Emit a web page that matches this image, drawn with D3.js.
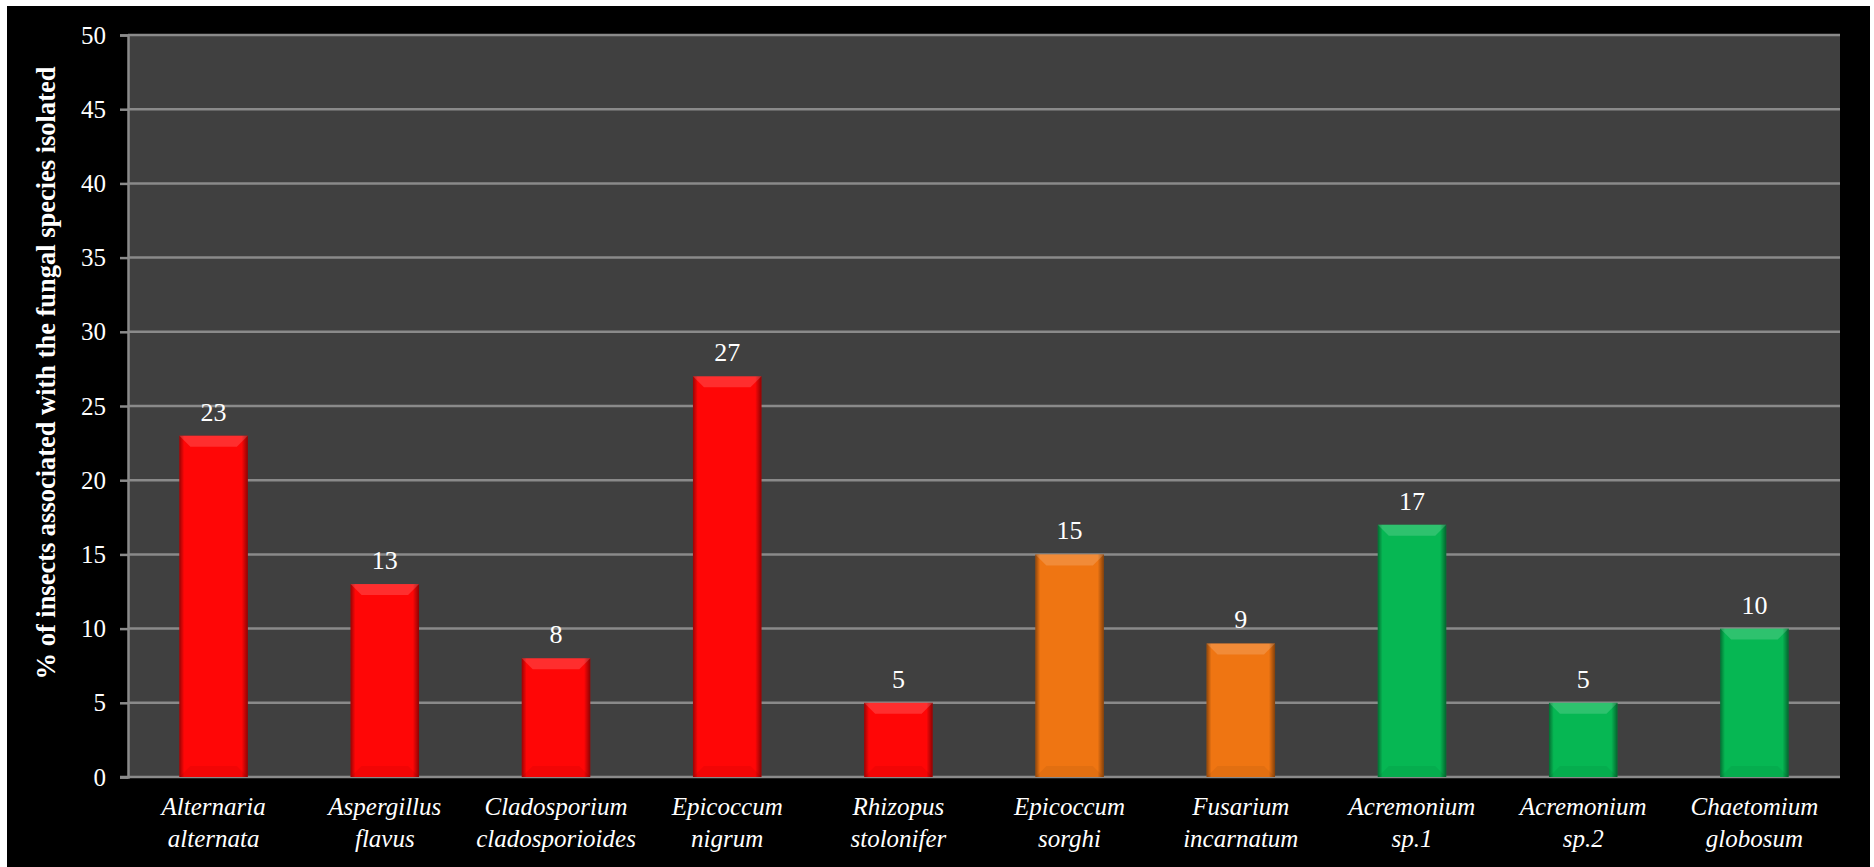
<!DOCTYPE html>
<html>
<head>
<meta charset="utf-8">
<script src="https://cdn.jsdelivr.net/npm/d3@7"></script>
<style>
  html, body { margin: 0; padding: 0; background: #ffffff; }
  svg { display: block; }
</style>
</head>
<body>
<svg id="chart" width="1874" height="867"></svg>
<script>
// ---- data ----
const categories = [
  "Alternaria alternata", "Aspergillus flavus", "Cladosporium cladosporioides",
  "Epicoccum nigrum", "Rhizopus stolonifer", "Epicoccum sorghi",
  "Fusarium incarnatum", "Acremonium sp.1", "Acremonium sp.2", "Chaetomium globosum"
];
const labelLine1 = ["Alternaria", "Aspergillus", "Cladosporium", "Epicoccum", "Rhizopus",
                    "Epicoccum", "Fusarium", "Acremonium", "Acremonium", "Chaetomium"];
const labelLine2 = ["alternata", "flavus", "cladosporioides", "nigrum", "stolonifer",
                    "sorghi", "incarnatum", "sp.1", "sp.2", "globosum"];
const values = [23, 13, 8, 27, 5, 15, 9, 17, 5, 10];
const groups = ["red", "red", "red", "red", "red", "orange", "orange", "green", "green", "green"];
const groupColors = { red: "#ff0606", orange: "#ef7512", green: "#06b753" };
const yTicks = [0, 5, 10, 15, 20, 25, 30, 35, 40, 45, 50];
const yTitle = "% of insects associated with the fungal species isolated";

// ---- layout ----
const FONT = "'Liberation Serif', 'DejaVu Serif', serif";
const plot = { left: 128, right: 1840, top: 35, bottom: 777 };

const svg = d3.select("#chart");

// outer black panel
svg.append("rect").attr("x", 7).attr("y", 6).attr("width", 1863).attr("height", 861).attr("fill", "#000000");

// plot background
svg.append("rect")
  .attr("x", plot.left).attr("y", plot.top)
  .attr("width", plot.right - plot.left).attr("height", plot.bottom - plot.top)
  .attr("fill", "#404040");

const x = d3.scaleBand().domain(categories).range([plot.left, plot.right])
  .paddingInner(0.6).paddingOuter(0.3);
const y = d3.scaleLinear().domain([0, 50]).range([plot.bottom, plot.top]);

// defs: gradients
const defs = svg.append("defs");
const sideGrad = defs.append("linearGradient").attr("id", "sideShade")
  .attr("x1", "0").attr("x2", "1").attr("y1", "0").attr("y2", "0");
sideGrad.append("stop").attr("offset", "0").attr("stop-color", "#000").attr("stop-opacity", 0.4);
sideGrad.append("stop").attr("offset", "0.07").attr("stop-color", "#000").attr("stop-opacity", 0.0);
sideGrad.append("stop").attr("offset", "0.91").attr("stop-color", "#000").attr("stop-opacity", 0.0);
sideGrad.append("stop").attr("offset", "1").attr("stop-color", "#000").attr("stop-opacity", 0.45);

// gridlines
svg.append("g").selectAll("line").data(yTicks.filter(d => d > 0)).join("line")
  .attr("x1", plot.left).attr("x2", plot.right)
  .attr("y1", d => y(d)).attr("y2", d => y(d))
  .attr("stroke", "#8a8a8a").attr("stroke-width", 2.5);

// axes
const yAxis = d3.axisLeft(y).tickValues(yTicks).tickSize(8).tickPadding(14);
const gy = svg.append("g").attr("transform", `translate(${plot.left},0)`).call(yAxis)
  .attr("font-family", FONT).attr("font-size", 25);
gy.select(".domain").attr("stroke", "#8a8a8a").attr("stroke-width", 2.5);
gy.selectAll(".tick line").attr("stroke", "#8a8a8a").attr("stroke-width", 2.5);
gy.selectAll(".tick text")
  .attr("fill", "#ffffff")
  .attr("font-family", FONT)
  .style("font-family", FONT)
  .style("font-size", "25px");

// x axis baseline
svg.append("line")
  .attr("x1", plot.left - 8).attr("x2", plot.right)
  .attr("y1", y(0)).attr("y2", y(0))
  .attr("stroke", "#8a8a8a").attr("stroke-width", 2.5);

// bars
const bw = x.bandwidth();
const bars = svg.append("g").selectAll("g").data(categories).join("g");
bars.append("rect")
  .attr("x", d => x(d)).attr("y", (d, i) => y(values[i]))
  .attr("width", bw).attr("height", (d, i) => y(0) - y(values[i]))
  .attr("fill", (d, i) => groupColors[groups[i]]);
bars.append("rect")
  .attr("x", d => x(d)).attr("y", (d, i) => y(values[i]))
  .attr("width", bw).attr("height", (d, i) => y(0) - y(values[i]))
  .attr("fill", "url(#sideShade)");
const bev = 11;
// top bevel (light)
bars.append("path")
  .attr("d", (d, i) => {
    const x0 = x(d), x1 = x(d) + bw, t = y(values[i]);
    return `M${x0},${t}L${x1},${t}L${x1 - bev},${t + bev}L${x0 + bev},${t + bev}Z`;
  })
  .attr("fill", "#ffffff").attr("fill-opacity", 0.16);
// bottom bevel (dark)
bars.append("path")
  .attr("d", (d, i) => {
    const x0 = x(d), x1 = x(d) + bw, b = y(0);
    return `M${x0},${b}L${x1},${b}L${x1 - bev},${b - bev}L${x0 + bev},${b - bev}Z`;
  })
  .attr("fill", "#000000").attr("fill-opacity", 0.05);

// value labels
svg.append("g").selectAll("text").data(categories).join("text")
  .attr("x", d => x(d) + bw / 2)
  .attr("y", (d, i) => y(values[i]) - 15)
  .attr("text-anchor", "middle")
  .attr("fill", "#ffffff")
  .attr("font-family", FONT).style("font-family", FONT)
  .style("font-size", "26px")
  .text((d, i) => values[i]);

// category labels
const cl = svg.append("g").selectAll("text").data(categories).join("text")
  .attr("text-anchor", "middle")
  .attr("fill", "#ffffff")
  .attr("font-family", FONT).style("font-family", FONT)
  .style("font-size", "25px").style("font-style", "italic");
cl.append("tspan").attr("x", d => x(d) + bw / 2).attr("y", 815).text((d, i) => labelLine1[i]);
cl.append("tspan").attr("x", d => x(d) + bw / 2).attr("y", 847).text((d, i) => labelLine2[i]);

// y title
const t = svg.append("text")
  .attr("transform", "translate(55,373) rotate(-90)")
  .attr("text-anchor", "middle")
  .attr("fill", "#ffffff")
  .attr("font-family", FONT).style("font-family", FONT)
  .style("font-size", "24px").style("font-weight", "bold")
  .text(yTitle);
const len = t.node().getComputedTextLength();
t.style("font-size", (24 * 613 / len).toFixed(2) + "px");
</script>
</body>
</html>
